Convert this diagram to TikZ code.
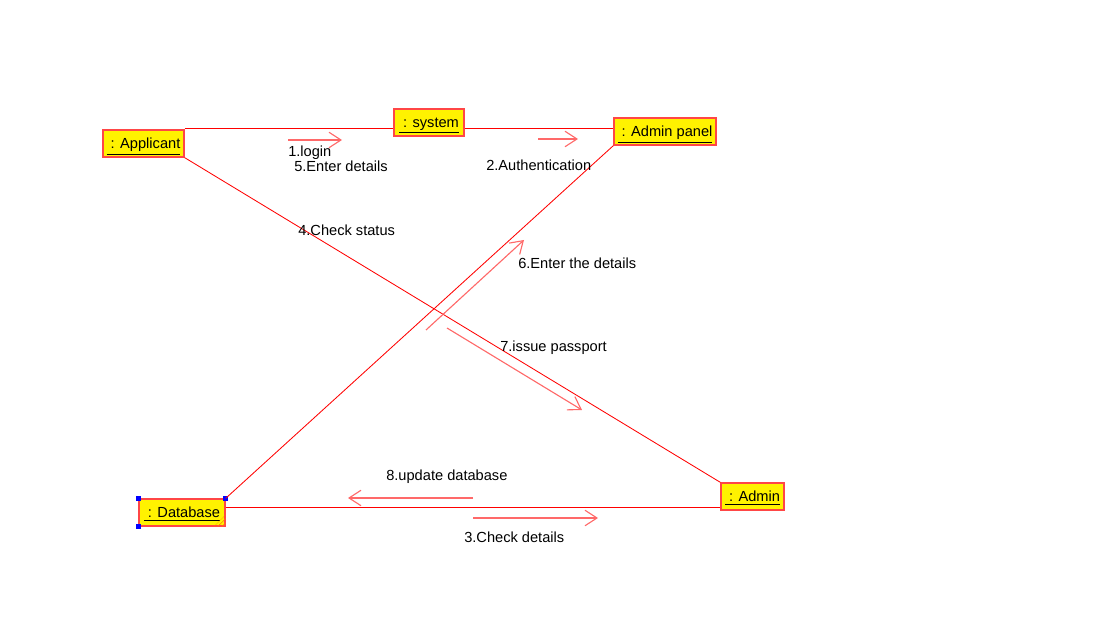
\documentclass[tikz,border=0pt]{standalone}
\usepackage{fontspec}
\setmainfont{Liberation Sans}
\usetikzlibrary{arrows.meta,positioning,patterns,calc}
\definecolor{rosered}{RGB}{255,70,70}
\definecolor{msgred}{RGB}{255,105,105}

\begin{document}
\begin{tikzpicture}[x=0.025cm,y=-0.025cm,
    obj/.style = {rectangle, draw=rosered, fill=yellow, line width=0.9pt,
      minimum height=0.675cm, inner sep=0pt, text depth=0pt,
      font=\fontsize{10.4}{12}\selectfont},
    link/.style = {draw=red, line width=0.6pt},
    thick link/.style = {link, line width=1.4pt},
    msg/.style = {draw=msgred, line width=0.8pt, -{Straight Barb[length=8.5pt,width=11pt]}},
    lbl/.style = {anchor=west, inner sep=0pt, yshift=-0.8pt, font=\fontsize{10.4}{12}\selectfont},
    handle/.style = {fill=blue, minimum size=3.5pt, inner sep=0pt},
    ]
    \useasboundingbox (0,0) rectangle (1107,622);
    % objects
    \node[obj, minimum width=2.025cm] (app) at (143.5,143.5) {\underline{\ : Applicant}};
    \node[obj, minimum width=1.75cm] (sys) at (429,122.5) {\underline{\ : system}};
    \node[obj, minimum width=2.55cm] (pnl) at (665,131.5) {\underline{\ : Admin panel}};
    \node[obj, minimum width=2.15cm] (db) at (182,512.5) {\underline{\ : Database}};
    \node[obj, minimum width=1.575cm] (adm) at (752.5,496.5) {\underline{\ : Admin}};
    % database marks
    \fill[pattern=north east lines, pattern color=orange]
      (db.south east) -- ++(-12,0) -- ++(12,-12) -- cycle;
    \node[handle] at (db.north west) {};
    \node[handle] at (db.north east) {};
    \node[handle] at (db.south west) {};
    % links
    \coordinate (top) at ($(app.north east)+(0,-1)$);
    \draw[link] (top) -- (top -| sys.west);
    \draw[link] (top -| sys.east) -- (top -| pnl.west);
    \draw[link] (app.south east) -- (adm.north west);
    \draw[link] (pnl.south west) -- (db.north east);
    \coordinate (bot) at ($(db.east)+(0,-5)$);
    \draw[thick link] (bot) -- (bot -| adm.west);
    % messages
    \coordinate (m1a) at (288,140); \coordinate (m1b) at (342,140);
    \coordinate (m2a) at (538,139); \coordinate (m2b) at (578,139);
    \coordinate (m6a) at (426,330); \coordinate (m6b) at (524,240);
    \coordinate (m7a) at (447,328); \coordinate (m7b) at (582,410);
    \coordinate (m8a) at (473,498); \coordinate (m8b) at (348,498);
    \coordinate (m3a) at (473,518); \coordinate (m3b) at (598,518);
    \draw[msg] (m1a) -- (m1b);
    \draw[msg] (m2a) -- (m2b);
    \draw[msg] (m6a) -- (m6b);
    \draw[msg] (m7a) -- (m7b);
    \draw[msg] (m8a) -- (m8b);
    \draw[msg] (m3a) -- (m3b);
    \node[lbl] (l1) at (288,152) {1.login};
    \node[lbl] (l5) at (294,165) {5.Enter details};
    \node[lbl] (l2) at (486,164) {2.Authentication};
    \node[lbl] (l4) at (298,229) {4.Check status};
    \node[lbl] (l6) at (518,262) {6.Enter the details};
    \node[lbl] (l7) at (500,347) {7.issue passport};
    \node[lbl] (l8) at (386,476) {8.update database};
    \node[lbl] (l3) at (464,536) {3.Check details};
\end{tikzpicture}
\end{document}
